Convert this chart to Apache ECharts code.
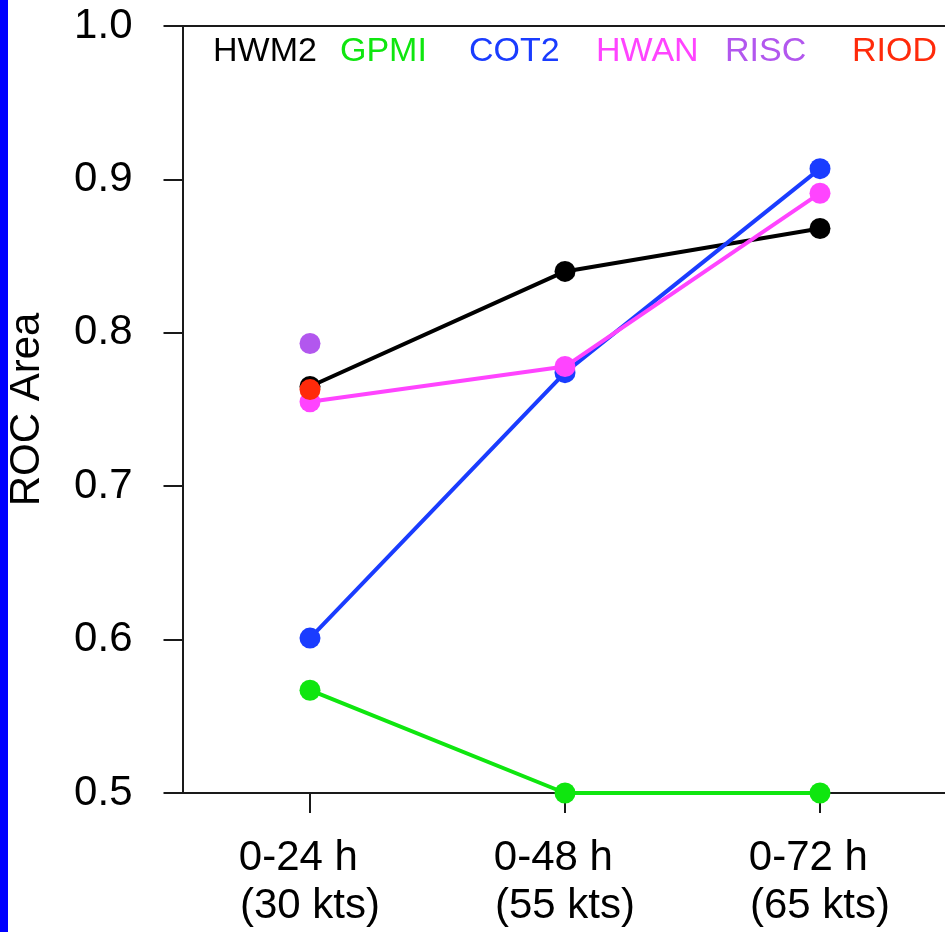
<!DOCTYPE html>
<html>
<head>
<meta charset="utf-8">
<style>
  html, body { margin: 0; padding: 0; background: #ffffff; }
  #chart { width: 945px; height: 932px; }
</style>
<script src="https://cdn.jsdelivr.net/npm/echarts@6/dist/echarts.min.js"></script>
</head>
<body>
<div id="chart"></div>
<script>
// Forecast windows (lead time with intensity-change threshold)
const categories = ['0-24 h\n(30 kts)', '0-48 h\n(55 kts)', '0-72 h\n(65 kts)'];

// ROC area per scheme
const hwm2 = [0.765, 0.840, 0.868];
const gpmi = [0.567, 0.500, 0.500];
const cot2 = [0.601, 0.774, 0.907];
const hwan = [0.755, 0.778, 0.891];
const risc = [0.793, null, null];
const riod = [0.763, null, null];

const yTicks = { min: 0.5, max: 1.0, step: 0.1 };

const seriesList = [
  { name: 'HWM2', data: hwm2, color: '#000000' },
  { name: 'GPMI', data: gpmi, color: '#0fe60f' },
  { name: 'COT2', data: cot2, color: '#1a3cff' },
  { name: 'HWAN', data: hwan, color: '#ff44ff' },
  { name: 'RISC', data: risc, color: '#b257ee' },
  { name: 'RIOD', data: riod, color: '#ff2a0a' }
];

const FONT = 'Liberation Sans, Arial, Helvetica, sans-serif';
const AXIS_COLOR = '#1a1a1a';

// one legend block per scheme, evenly spaced across the top of the frame
const legendLefts = [208, 335, 464, 591, 720, 847];
const legends = seriesList.map((s, i) => ({
  data: [s.name],
  left: legendLefts[i],
  top: 35,
  orient: 'horizontal',
  icon: 'none',
  itemWidth: 0,
  itemHeight: 10,
  itemGap: 0,
  padding: 0,
  selectedMode: false,
  textStyle: { color: s.color, fontSize: 34, fontFamily: FONT, lineHeight: 34 }
}));

// both label lines start at the same x: pad the short first line
const padFirstLine = v => {
  const [a, b] = v.split('\n');
  return a + '\u00a0\u00a0' + '\n' + b;
};

const chart = echarts.init(document.getElementById('chart'), null, { renderer: 'canvas' });

chart.setOption({
  backgroundColor: '#ffffff',
  animation: false,
  graphic: [{
    type: 'rect',
    left: 0, top: 0,
    shape: { width: 8, height: 932 },
    style: { fill: '#0000ff' },
    z: 100
  }],
  legend: legends,
  grid: {
    left: 182.5, top: 26, width: 765, bottom: 139,
    containLabel: false,
    outerBoundsMode: 'none'
  },
  xAxis: [{
    type: 'category',
    data: categories,
    boundaryGap: true,
    axisLine: { show: true, lineStyle: { color: AXIS_COLOR, width: 2 } },
    axisTick: { show: true, alignWithLabel: true, length: 20, lineStyle: { color: AXIS_COLOR, width: 2 } },
    axisLabel: {
      margin: 41, color: '#000', fontSize: 42, fontFamily: FONT, lineHeight: 48,
      formatter: padFirstLine
    },
    splitLine: { show: false }
  }, {
    type: 'category',
    position: 'top',
    data: categories,
    axisLine: { show: true, lineStyle: { color: AXIS_COLOR, width: 2 } },
    axisTick: { show: false },
    axisLabel: { show: false },
    splitLine: { show: false }
  }],
  yAxis: {
    type: 'value',
    min: yTicks.min,
    max: yTicks.max,
    interval: yTicks.step,
    name: 'ROC Area',
    nameLocation: 'middle',
    nameGap: 134,
    nameTextStyle: { color: '#000', fontSize: 42, fontFamily: FONT },
    axisLine: { show: true, lineStyle: { color: AXIS_COLOR, width: 2 } },
    axisTick: { show: true, length: 19, lineStyle: { color: AXIS_COLOR, width: 2 } },
    axisLabel: {
      margin: 50, color: '#000', fontSize: 42, fontFamily: FONT,
      formatter: v => v.toFixed(1)
    },
    splitLine: { show: false }
  },
  series: seriesList.map((s, i) => ({
    name: s.name,
    type: 'line',
    data: s.data,
    xAxisIndex: 0,
    symbol: 'circle',
    symbolSize: 21,
    clip: false,
    connectNulls: false,
    z: 3 + i,
    itemStyle: { color: s.color },
    lineStyle: { color: s.color, width: 4 },
    emphasis: { disabled: true }
  }))
});
</script>
</body>
</html>
